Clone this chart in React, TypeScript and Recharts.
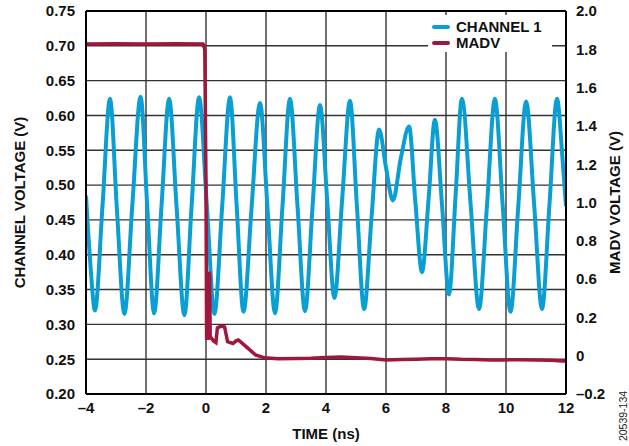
import React from 'react';
import { LineChart, Line, XAxis, YAxis, CartesianGrid, Legend, ReferenceLine } from 'recharts';

// ---------- data ----------
const X_TICKS = [-4, -2, 0, 2, 4, 6, 8, 10, 12];
const LEFT_TICKS = [0.2, 0.25, 0.3, 0.35, 0.4, 0.45, 0.5, 0.55, 0.6, 0.65, 0.7, 0.75];
const RIGHT_TICK_LABELS = ['–0.2', '0', '0.2', '0.6', '0.8', '1.0', '1.2', '1.4', '1.6', '1.8', '2.0'];
const RIGHT_DOMAIN: [number, number] = [-0.2, 2.0];

const CH1_TIME = [
  -4.0, -3.86, -3.7, -3.45, -3.2, -2.97, -2.72, -2.45, -2.18, -1.96, -1.73, -1.48, -1.23, -0.98,
  -0.72, -0.48, -0.23, 0.03, 0.28, 0.54, 0.8, 1.02, 1.25, 1.52, 1.8, 2.05, 2.3, 2.55, 2.8, 3.05,
  3.3, 3.55, 3.8, 4.04, 4.28, 4.54, 4.8, 5.03, 5.27, 5.52, 5.77, 6.0, 6.23, 6.5, 6.77, 6.98,
  7.2, 7.42, 7.63, 7.87, 8.1, 8.32, 8.53, 8.82, 9.1, 9.37, 9.63, 9.89, 10.15, 10.41, 10.67,
  10.94, 11.2, 11.45, 11.7, 11.88, 12.0,
];
const CH1_VOLT = [
  0.485, 0.39, 0.32, 0.47, 0.624, 0.465, 0.315, 0.475, 0.627, 0.47, 0.316, 0.472, 0.624, 0.468,
  0.313, 0.47, 0.626, 0.47, 0.315, 0.47, 0.626, 0.472, 0.318, 0.468, 0.618, 0.467, 0.316, 0.47,
  0.624, 0.47, 0.319, 0.468, 0.615, 0.478, 0.338, 0.48, 0.621, 0.47, 0.322, 0.455, 0.58, 0.525,
  0.478, 0.54, 0.584, 0.475, 0.375, 0.48, 0.594, 0.47, 0.343, 0.485, 0.624, 0.473, 0.322, 0.473,
  0.624, 0.471, 0.318, 0.47, 0.62, 0.471, 0.322, 0.473, 0.624, 0.54, 0.47,
];

const MADV_TIME = [
  -4.0, -3.0, -2.0, -1.0, -0.1, -0.04, 0.0, 0.02, 0.07, 0.09, 0.12, 0.14, 0.25, 0.33, 0.38, 0.5,
  0.62, 0.72, 0.9, 1.0, 1.08, 1.25, 1.45, 1.65, 1.95, 2.4, 3.0, 3.5, 4.0, 4.5, 5.0, 5.5, 6.0, 6.5,
  7.0, 7.5, 8.0, 8.5, 9.0, 9.5, 10.0, 10.5, 11.0, 11.5, 12.0,
];
const MADV_VOLT = [
  1.81, 1.812, 1.81, 1.812, 1.81, 1.78, 1.0, 0.12, 0.12, 0.5, 0.49, 0.13, 0.105, 0.095, 0.18, 0.19,
  0.185, 0.1, 0.09, 0.105, 0.11, 0.085, 0.055, 0.025, 0.008, 0.002, 0.004, 0.006, 0.01, 0.012,
  0.008, 0.004, -0.004, -0.002, 0.0, 0.002, 0.002, -0.001, -0.002, -0.004, -0.004, -0.003, -0.004,
  -0.006, -0.012,
];

const SERIES = [
  { name: 'CHANNEL 1', color: '#0A9FD3' },
  { name: 'MADV', color: '#A0173E' },
];

// ---------- layout ----------
const W = 629;
const H = 446;
const LEFT_W = 86;
const RIGHT_W = 63;
const TOP = 11;
const XAXIS_H = 52;
const PLOT_W = W - LEFT_W - RIGHT_W;
const PLOT_H = H - TOP - XAXIS_H;
const FONT = "'Liberation Sans', Arial, Helvetica, sans-serif";
const tickStyle = { fontSize: 15, fontWeight: 700, fill: '#111', fontFamily: FONT };

const ch1Data = CH1_TIME.map((t, i) => ({ t, v: CH1_VOLT[i] }));
const madvData = MADV_TIME.map((t, i) => ({ t, v: MADV_VOLT[i] }));
const rightTicks = RIGHT_TICK_LABELS.map(
  (_, i) => RIGHT_DOMAIN[0] + (i * (RIGHT_DOMAIN[1] - RIGHT_DOMAIN[0])) / (RIGHT_TICK_LABELS.length - 1)
);

const fmtX = (v: number) => (v < 0 ? '–' + Math.abs(v) : String(v));

function LeftTitle() {
  const x = 25;
  const y = TOP + PLOT_H / 2;
  return (
    <text x={x} y={y} transform={`rotate(-90 ${x} ${y})`} textAnchor="middle"
      style={{ fontSize: 15, fontWeight: 700, fill: '#111', fontFamily: FONT }}>
      CHANNEL VOLTAGE (V)
    </text>
  );
}

function RightTitle() {
  const x = 620;
  const y = TOP + PLOT_H / 2;
  const x2 = 627;
  const y2 = 416;
  return (
    <g>
      <text x={x} y={y} transform={`rotate(-90 ${x} ${y})`} textAnchor="middle"
        style={{ fontSize: 15, fontWeight: 700, fill: '#111', fontFamily: FONT }}>
        MADV VOLTAGE (V)
      </text>
      <text x={x2} y={y2} transform={`rotate(-90 ${x2} ${y2})`} textAnchor="middle"
        style={{ fontSize: 10.5, fontWeight: 400, fill: '#222', fontFamily: FONT }}>
        20539-134
      </text>
    </g>
  );
}

function BottomTitle() {
  const x = LEFT_W + PLOT_W / 2;
  const y = TOP + PLOT_H + 45;
  return (
    <text x={x} y={y} textAnchor="middle"
      style={{ fontSize: 15, fontWeight: 700, fill: '#111', fontFamily: FONT }}>
      TIME (ns)
    </text>
  );
}

function LegendContent() {
  return (
    <div style={{
      background: '#fff', width: 124, height: 37, boxSizing: 'border-box', padding: '4px 0 0 4px',
      fontFamily: FONT, fontWeight: 700, fontSize: 15, color: '#111',
    }}>
      {SERIES.map((s) => (
        <div key={s.name} style={{ display: 'flex', alignItems: 'center', height: 16, lineHeight: '16px' }}>
          <span style={{ display: 'inline-block', width: 18, height: 4, borderRadius: 2, background: s.color, marginRight: 6 }} />
          <span>{s.name}</span>
        </div>
      ))}
    </div>
  );
}

export default function App() {
  return (
    <div style={{ position: 'absolute', left: 0, top: 0, width: W, height: H, background: '#fff' }}>
      <LineChart width={W} height={H} margin={{ top: TOP, right: 0, left: 0, bottom: 0 }}>
        <CartesianGrid yAxisId="left" stroke="#333" strokeWidth={1.4} />
        <XAxis
          type="number" dataKey="t" domain={[-4, 12]} ticks={X_TICKS} interval={0}
          tickFormatter={fmtX} tick={tickStyle} tickLine={false}
          axisLine={{ stroke: '#000', strokeWidth: 2 }} height={XAXIS_H} allowDataOverflow
          label={<BottomTitle />}
        />
        <YAxis
          yAxisId="left" orientation="left" type="number" domain={[0.2, 0.75]} ticks={LEFT_TICKS}
          interval={0} tickFormatter={(v: number) => v.toFixed(2)} tick={tickStyle} tickLine={false}
          tickSize={6} tickMargin={5} axisLine={{ stroke: '#000', strokeWidth: 2 }} width={LEFT_W}
          allowDataOverflow label={<LeftTitle />}
        />
        <YAxis
          yAxisId="right" orientation="right" type="number" domain={RIGHT_DOMAIN} ticks={rightTicks}
          interval={0} tickFormatter={(_v: number, i: number) => RIGHT_TICK_LABELS[i]} tick={tickStyle}
          tickLine={false} tickSize={6} tickMargin={4} axisLine={{ stroke: '#000', strokeWidth: 2 }}
          width={RIGHT_W} allowDataOverflow label={<RightTitle />}
        />
        <ReferenceLine yAxisId="left" y={0.75} stroke="#000" strokeWidth={2} />
        <Line
          yAxisId="left" data={ch1Data} dataKey="v" name={SERIES[0].name} type="monotone"
          stroke={SERIES[0].color} strokeWidth={4} dot={false} isAnimationActive={false}
        />
        <Line
          yAxisId="right" data={madvData} dataKey="v" name={SERIES[1].name} type="linear"
          stroke={SERIES[1].color} strokeWidth={3.5} dot={false} isAnimationActive={false}
        />
        <Legend
          layout="horizontal" verticalAlign="middle" align="center"
          wrapperStyle={{ left: 428, top: 15, width: 124, height: 37 }}
          content={<LegendContent />}
        />
      </LineChart>
    </div>
  );
}
